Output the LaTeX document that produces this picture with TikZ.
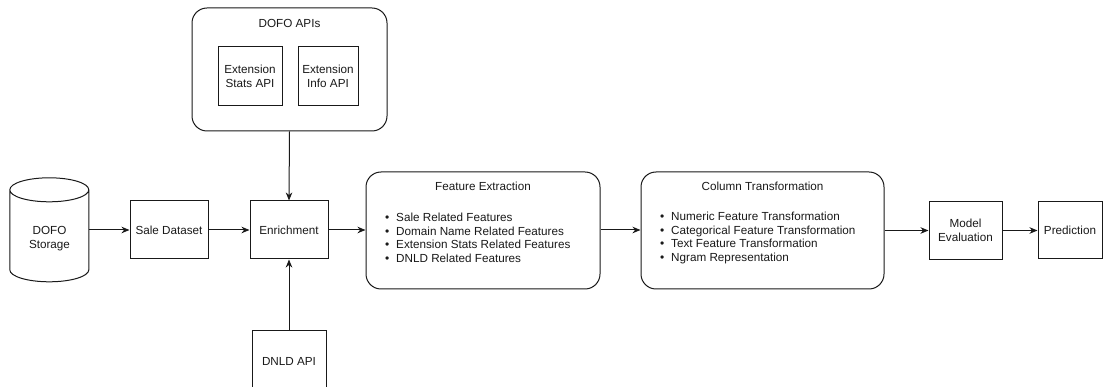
\documentclass[tikz,border=0pt]{standalone}
\usepackage{fontspec}
\setmainfont{Liberation Sans}
\usetikzlibrary{arrows.meta}
\newcommand\bulitem{\makebox[11pt][l]{{\fontsize{12}{12}\selectfont •}}}
\begin{document}
\begin{tikzpicture}[x=1pt,y=-1pt,
  font=\fontsize{11.7}{13.6}\selectfont,
  box/.style={draw=black!90, line width=1pt, inner sep=0pt, align=center, text=black!90},
  rbox/.style={box, rounded corners=15pt},
  arr/.style={draw=black!90, line width=1pt, -{Stealth[length=8pt,width=6.5pt,inset=2.5pt]}},
  txt/.style={inner sep=0pt, align=center, text=black!90},
  lst/.style={inner sep=0pt, align=left, anchor=west, text=black!90}]
\useasboundingbox (0,0) rectangle (1104,387);
\clip (0,0) rectangle (1104,387);
% DOFO APIs group
\node[rbox, minimum width=195pt, minimum height=123pt] (apis) at (289.5,69.5) {};
\node[txt] (apistitle) at (289.5,23) {DOFO APIs};
\node[box, minimum width=64pt, minimum height=59pt] (stats) at (250,76.5) {Extension\\Stats API};
\node[box, minimum width=60pt, minimum height=59pt] (info) at (328,76.5) {Extension\\Info API};
% storage cylinder
\node[minimum width=79pt, minimum height=104pt, inner sep=0pt] (storage) at (49.5,230) {};
\draw[draw=black!90, line width=1pt] (storage.north west) ++(0,12) -- ++(0,80)
  arc[start angle=180, end angle=360, x radius=39.5pt, y radius=12pt] -- ++(0,-80)
  arc[start angle=0, end angle=180, x radius=39.5pt, y radius=12pt]
  arc[start angle=180, end angle=360, x radius=39.5pt, y radius=12pt];
\node[txt] (storagetxt) at (49.5,238.5) {DOFO\\Storage};
% main chain
\node[box, minimum width=78pt, minimum height=58pt] (sale) at (169,230) {Sale Dataset};
\node[box, minimum width=78pt, minimum height=58pt] (enrich) at (289,230) {Enrichment};
\node[box, minimum width=74pt, minimum height=60pt] (dnld) at (289,361) {DNLD API};
\node[rbox, minimum width=234pt, minimum height=117pt] (featx) at (483,230.5) {};
\node[txt] (featxtitle) at (483,186) {Feature Extraction};
\node[lst] (featxlist) at (385,238) {\bulitem Sale Related Features\\\bulitem Domain Name Related Features\\\bulitem Extension Stats Related Features\\\bulitem DNLD Related Features};
\node[rbox, minimum width=243pt, minimum height=117pt] (colt) at (762.5,230.5) {};
\node[txt] (colttitle) at (762.5,186) {Column Transformation};
\node[lst] (coltlist) at (660,238) {\bulitem Numeric Feature Transformation\\\bulitem Categorical Feature Transformation\\\bulitem Text Feature Transformation\\\bulitem Ngram Representation};
\node[box, minimum width=73pt, minimum height=58pt] (model) at (965.5,230.5) {Model\\Evaluation};
\node[box, minimum width=64pt, minimum height=57pt] (pred) at (1070,230.5) {Prediction};
% connectors
\draw[arr] (storage.east) -- (sale.west);
\draw[arr] (sale.east) -- (enrich.west);
\draw[arr] (apis.south) -- (enrich.north);
\draw[arr] (dnld.north) -- (enrich.south);
\draw[arr] (enrich.east) -- (featx.west |- enrich.east);
\draw[arr] (featx.east |- enrich.east) -- (colt.west |- enrich.east);
\draw[arr] (colt.east |- model.west) -- (model.west);
\draw[arr] (model.east) -- (pred.west);
\end{tikzpicture}
\end{document}
